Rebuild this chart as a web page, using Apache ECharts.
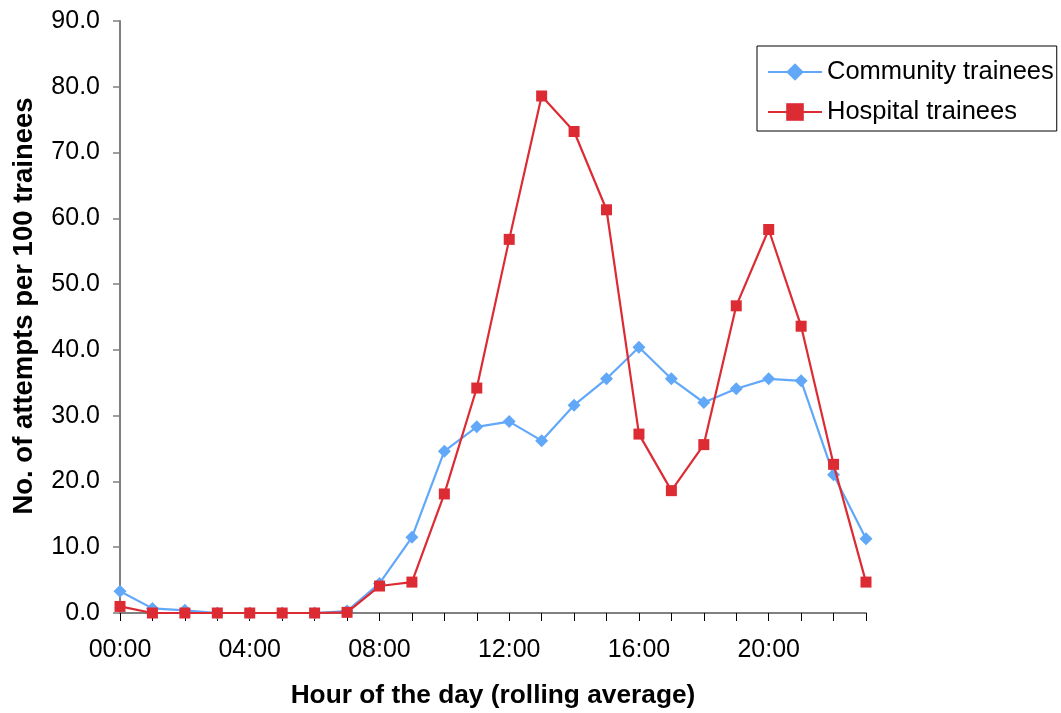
<!DOCTYPE html>
<html>
<head>
<meta charset="utf-8">
<script src="https://cdn.jsdelivr.net/npm/echarts@6/dist/echarts.min.js"></script>
<style>
  html, body { margin: 0; padding: 0; background: #fff; }
  #chart { width: 1061px; height: 713px; }
</style>
</head>
<body>
<div id="chart"></div>
<script>
// Hours of the day (rolling average), one category per hour
const hours = [
  '00:00','01:00','02:00','03:00','04:00','05:00','06:00','07:00',
  '08:00','09:00','10:00','11:00','12:00','13:00','14:00','15:00',
  '16:00','17:00','18:00','19:00','20:00','21:00','22:00','23:00'
];

// Attempts per 100 trainees
const community = [
  3.3, 0.7, 0.4, 0.0, 0.0, 0.0, 0.0, 0.3,
  4.5, 11.5, 24.6, 28.3, 29.1, 26.2, 31.6, 35.6,
  40.4, 35.6, 32.0, 34.1, 35.6, 35.3, 21.0, 11.3
];
const hospital = [
  1.0, 0.0, 0.0, 0.0, 0.0, 0.0, 0.0, 0.1,
  4.1, 4.7, 18.1, 34.2, 56.8, 78.6, 73.2, 61.3,
  27.2, 18.6, 25.6, 46.7, 58.3, 43.6, 22.6, 4.7
];

// Y axis range and step
const yMin = 0, yMax = 90, yStep = 10;

const chart = echarts.init(document.getElementById('chart'), null, { renderer: 'canvas' });

const font = '"Liberation Sans", Arial, sans-serif';
const axisGray = '#808080';

chart.setOption({
  animation: false,
  backgroundColor: '#ffffff',
  textStyle: { fontFamily: font, color: '#000' },
  grid: {
    left: 120, right: 195, top: 21, bottom: 100,
    containLabel: false,
    outerBoundsMode: 'none'
  },
  legend: {
    orient: 'vertical',
    left: 757,
    top: 46,
    padding: [13, 3, 6, 10],
    itemGap: 14,
    itemWidth: 54,
    itemHeight: 22,
    borderColor: '#000',
    borderWidth: 1,
    textStyle: { fontFamily: font, fontSize: 25.5, color: '#000', lineHeight: 26 },
    data: ['Community trainees', 'Hospital trainees']
  },
  xAxis: {
    type: 'category',
    data: hours,
    boundaryGap: false,
    name: 'Hour of the day (rolling average)',
    nameLocation: 'middle',
    nameGap: 70,
    nameTextStyle: { fontFamily: font, fontSize: 26.3, fontWeight: 'bold', color: '#000' },
    axisLine: { lineStyle: { color: axisGray, width: 2 } },
    axisTick: { show: true, interval: 0, length: 8, lineStyle: { color: '#000', width: 1 } },
    axisLabel: {
      interval: 3,
      margin: 25,
      fontFamily: font,
      fontSize: 25,
      color: '#000',
      formatter: v => v
    },
    splitLine: { show: false }
  },
  yAxis: {
    type: 'value',
    min: yMin,
    max: yMax,
    interval: yStep,
    name: 'No. of attempts per 100 trainees',
    nameLocation: 'middle',
    nameGap: 82,
    nameRotate: 90,
    nameTextStyle: {
      fontFamily: font, fontSize: 27.5, fontWeight: 'bold', color: '#000',
      padding: [0, 0, 0, 22]
    },
    axisLine: { show: true, lineStyle: { color: axisGray, width: 2 } },
    axisTick: { show: true, length: 7, lineStyle: { color: axisGray, width: 1.5 } },
    axisLabel: {
      margin: 20,
      fontFamily: font,
      fontSize: 25,
      color: '#000',
      formatter: v => v.toFixed(1)
    },
    splitLine: { show: false }
  },
  series: [
    {
      name: 'Community trainees',
      type: 'line',
      data: community,
      symbol: 'diamond',
      symbolSize: 13,
      showAllSymbol: true,
      color: '#62A8F9',
      lineStyle: { color: '#62A8F9', width: 2.2 },
      itemStyle: { color: '#62A8F9' },
      z: 2
    },
    {
      name: 'Hospital trainees',
      type: 'line',
      data: hospital,
      symbol: 'rect',
      symbolSize: 11,
      showAllSymbol: true,
      color: '#DD2B34',
      lineStyle: { color: '#DD2B34', width: 2.2 },
      itemStyle: { color: '#DD2B34' },
      z: 3
    }
  ]
});
</script>
</body>
</html>
